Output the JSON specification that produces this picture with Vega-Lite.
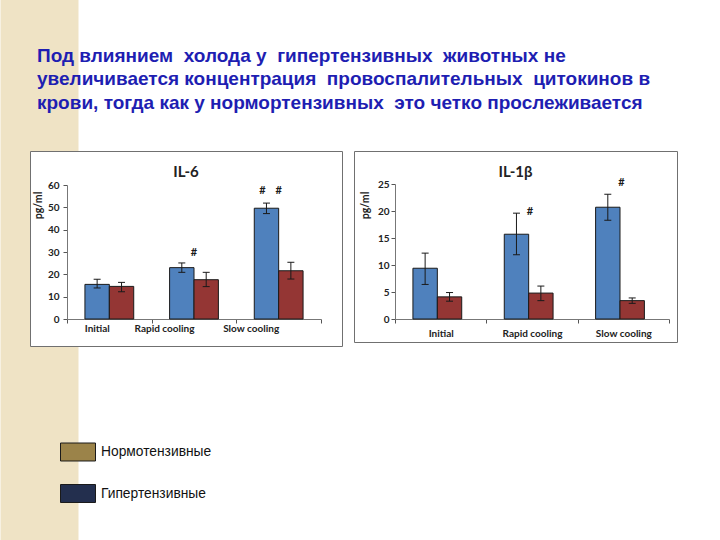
{
  "$schema": "https://vega.github.io/schema/vega-lite/v6.json",
  "background": "white",
  "padding": 0,
  "autosize": {"type": "pad"},
  "bounds": "flush",
  "spacing": 0,
  "resolve": {"scale": {"stroke": "independent"}, "legend": {"stroke": "independent"}},
  "hconcat": [
    {
      "width": 1,
      "height": 1,
      "view": {"fill": null, "stroke": null},
      "data": {"values": [{"s": 0}, {"s": 1}]},
      "mark": {"type": "point", "opacity": 0},
      "encoding": {
        "stroke": {
          "field": "s",
          "type": "quantitative",
          "scale": {"range": ["#efe3c5", "#efe3c5"]},
          "legend": {
            "orient": "none",
            "legendX": -28.5,
            "legendY": -151,
            "direction": "vertical",
            "gradientLength": 540,
            "gradientThickness": 78,
            "gradientStrokeWidth": 0,
            "gradientOpacity": 1,
            "labelOpacity": 0,
            "labelExpr": "''",
            "title": null,
            "padding": 0
          }
        }
      }
    },
    {
      "title": {
        "text": [
          "Под влиянием\u00a0 холода у\u00a0 гипертензивных\u00a0 животных не",
          "увеличивается концентрация\u00a0 провоспалительных\u00a0 цитокинов в",
          "крови, тогда как у нормортензивных\u00a0 это четко прослеживается"
        ],
        "anchor": "start",
        "frame": "group",
        "dx": 7,
        "offset": 38,
        "font": "Liberation Sans",
        "fontSize": 19,
        "fontWeight": "bold",
        "color": "#1e1eb2",
        "lineHeight": 23.5
      },
      "spacing": 10,
      "hconcat": [
        {
          "width": 312,
          "height": 195,
          "title": {"text": "IL-6", "offset": -29},
          "data": {
            "values": [
              {"cat": "Initial", "group": "Нормотензивные", "v": 15.5, "lo": 13.9, "hi": 17.8},
              {"cat": "Initial", "group": "Гипертензивные", "v": 14.6, "lo": 12.2, "hi": 16.4},
              {"cat": "Rapid cooling", "group": "Нормотензивные", "v": 23.0, "lo": 20.9, "hi": 25.1},
              {"cat": "Rapid cooling", "group": "Гипертензивные", "v": 17.6, "lo": 14.5, "hi": 20.9},
              {"cat": "Slow cooling", "group": "Нормотензивные", "v": 49.6, "lo": 47.2, "hi": 51.9},
              {"cat": "Slow cooling", "group": "Гипертензивные", "v": 21.6, "lo": 17.9, "hi": 25.4}
            ]
          },
          "layer": [
            {
              "mark": {"type": "bar", "opacity": 0},
              "encoding": {
                "x": {"field": "cat", "type": "nominal", "title": null},
                "xOffset": {"field": "group", "type": "nominal"},
                "y": {"field": "v", "type": "quantitative", "title": "pg/ml"},
                "fill": {
                  "field": "group",
                  "type": "nominal",
                  "scale": {"domain": ["Нормотензивные", "Гипертензивные"], "range": ["#9b8349", "#232f4e"]},
                  "legend": {
                    "orient": "none",
                    "legendX": 31,
                    "legendY": 283,
                    "title": null,
                    "padding": 0,
                    "symbolType": "M-1,-0.514L1,-0.514L1,0.514L-1,0.514Z",
                    "symbolSize": 1225,
                    "symbolStrokeColor": "#1a1a1a",
                    "symbolStrokeWidth": 1,
                    "symbolOpacity": 1,
                    "labelFont": "Liberation Sans",
                    "labelFontSize": 13.8,
                    "labelFontWeight": "normal",
                    "labelColor": "#111111",
                    "labelOffset": 5,
                    "rowPadding": 12.5
                  }
                }
              }
            },
            {
              "mark": {"type": "bar", "stroke": "#1a1a1a", "strokeWidth": 1},
              "encoding": {
                "x": {
                  "field": "cat",
                  "type": "nominal",
                  "sort": null,
                  "title": null,
                  "scale": {"domain": ["Initial", "Rapid cooling", "Slow cooling"], "range": [37, 291], "paddingInner": 0, "paddingOuter": 0},
                  "axis": {"orient": "bottom", "offset": -27, "labelAngle": 0, "tickBand": "extent", "labelPadding": 5}
                },
                "xOffset": {
                  "field": "group",
                  "type": "nominal",
                  "sort": null,
                  "scale": {"domain": ["Нормотензивные", "Гипертензивные"], "paddingInner": 0, "paddingOuter": 0.735}
                },
                "y": {
                  "field": "v",
                  "type": "quantitative",
                  "title": "pg/ml",
                  "scale": {"domain": [0, 60], "range": [168, 34], "nice": false},
                  "axis": {"orient": "left", "offset": -37, "values": [0, 10, 20, 30, 40, 50, 60], "tickCount": 7, "labelOverlap": false, "labelBound": false, "titleY": 54, "titlePadding": 4, "labelPadding": 4}
                },
                "color": {
                  "field": "group",
                  "type": "nominal",
                  "scale": {"domain": ["Нормотензивные", "Гипертензивные"], "range": ["#4f81bd", "#943634"]},
                  "legend": null
                }
              }
            },
            {
              "mark": {"type": "rule", "color": "#1a1a1a", "strokeWidth": 1},
              "encoding": {
                "x": {"field": "cat", "type": "nominal", "title": null},
                "xOffset": {"field": "group", "type": "nominal"},
                "y": {"field": "lo", "type": "quantitative", "title": "pg/ml"},
                "y2": {"field": "hi"}
              }
            },
            {
              "mark": {"type": "tick", "size": 7, "thickness": 1, "color": "#1a1a1a", "opacity": 1},
              "encoding": {
                "x": {"field": "cat", "type": "nominal", "title": null},
                "xOffset": {"field": "group", "type": "nominal"},
                "y": {"field": "lo", "type": "quantitative", "title": "pg/ml"}
              }
            },
            {
              "mark": {"type": "tick", "size": 7, "thickness": 1, "color": "#1a1a1a", "opacity": 1},
              "encoding": {
                "x": {"field": "cat", "type": "nominal", "title": null},
                "xOffset": {"field": "group", "type": "nominal"},
                "y": {"field": "hi", "type": "quantitative", "title": "pg/ml"}
              }
            },
            {
              "data": {"values": [{"cat": "Rapid cooling", "y": 29.7, "mark": "#"}, {"cat": "Slow cooling", "y": 57.5, "mark": "#"}]},
              "mark": {"type": "text", "font": "Lato", "fontWeight": "bold", "fontSize": 11, "baseline": "middle", "color": "#1a1a1a"},
              "encoding": {
                "x": {"field": "cat", "type": "nominal", "title": null},
                "y": {"field": "y", "type": "quantitative", "title": "pg/ml"},
                "text": {"field": "mark"}
              }
            },
            {
              "data": {"values": [{"cat": "Slow cooling", "group": "Нормотензивные", "y": 57.5, "mark": "#"}]},
              "mark": {"type": "text", "font": "Lato", "fontWeight": "bold", "fontSize": 11, "baseline": "middle", "color": "#1a1a1a", "dx": -4},
              "encoding": {
                "x": {"field": "cat", "type": "nominal", "title": null},
                "xOffset": {"field": "group", "type": "nominal"},
                "y": {"field": "y", "type": "quantitative", "title": "pg/ml"},
                "text": {"field": "mark"}
              }
            }
          ]
        },
        {
          "width": 323,
          "height": 191,
          "title": {"text": "IL-1β", "offset": -29},
          "data": {
            "values": [
              {"cat": "Initial", "group": "Нормотензивные", "v": 9.4, "lo": 6.4, "hi": 12.2},
              {"cat": "Initial", "group": "Гипертензивные", "v": 4.1, "lo": 3.3, "hi": 4.9},
              {"cat": "Rapid cooling", "group": "Нормотензивные", "v": 15.7, "lo": 11.9, "hi": 19.6},
              {"cat": "Rapid cooling", "group": "Гипертензивные", "v": 4.8, "lo": 3.4, "hi": 6.1},
              {"cat": "Slow cooling", "group": "Нормотензивные", "v": 20.7, "lo": 18.3, "hi": 23.1},
              {"cat": "Slow cooling", "group": "Гипертензивные", "v": 3.4, "lo": 2.9, "hi": 3.9}
            ]
          },
          "layer": [
            {
              "mark": {"type": "bar", "stroke": "#1a1a1a", "strokeWidth": 1},
              "encoding": {
                "x": {
                  "field": "cat",
                  "type": "nominal",
                  "sort": null,
                  "title": null,
                  "scale": {"domain": ["Initial", "Rapid cooling", "Slow cooling"], "range": [41, 315], "paddingInner": 0, "paddingOuter": 0},
                  "axis": {"orient": "bottom", "offset": -23, "labelAngle": 0, "tickBand": "extent", "labelPadding": 5}
                },
                "xOffset": {
                  "field": "group",
                  "type": "nominal",
                  "sort": null,
                  "scale": {"domain": ["Нормотензивные", "Гипертензивные"], "paddingInner": 0, "paddingOuter": 0.74}
                },
                "y": {
                  "field": "v",
                  "type": "quantitative",
                  "title": "pg/ml",
                  "scale": {"domain": [0, 25], "range": [168, 33], "nice": false},
                  "axis": {"orient": "left", "offset": -41, "values": [0, 5, 10, 15, 20, 25], "tickCount": 6, "labelOverlap": false, "labelBound": false, "titleY": 54, "titlePadding": 7, "labelPadding": 2}
                },
                "color": {
                  "field": "group",
                  "type": "nominal",
                  "scale": {"domain": ["Нормотензивные", "Гипертензивные"], "range": ["#4f81bd", "#943634"]},
                  "legend": null
                }
              }
            },
            {
              "mark": {"type": "rule", "color": "#1a1a1a", "strokeWidth": 1},
              "encoding": {
                "x": {"field": "cat", "type": "nominal", "title": null},
                "xOffset": {"field": "group", "type": "nominal"},
                "y": {"field": "lo", "type": "quantitative", "title": "pg/ml"},
                "y2": {"field": "hi"}
              }
            },
            {
              "mark": {"type": "tick", "size": 7, "thickness": 1, "color": "#1a1a1a", "opacity": 1},
              "encoding": {
                "x": {"field": "cat", "type": "nominal", "title": null},
                "xOffset": {"field": "group", "type": "nominal"},
                "y": {"field": "lo", "type": "quantitative", "title": "pg/ml"}
              }
            },
            {
              "mark": {"type": "tick", "size": 7, "thickness": 1, "color": "#1a1a1a", "opacity": 1},
              "encoding": {
                "x": {"field": "cat", "type": "nominal", "title": null},
                "xOffset": {"field": "group", "type": "nominal"},
                "y": {"field": "hi", "type": "quantitative", "title": "pg/ml"}
              }
            },
            {
              "data": {"values": [{"cat": "Rapid cooling", "y": 19.9, "mark": "#"}, {"cat": "Slow cooling", "y": 25.1, "mark": "#"}]},
              "mark": {"type": "text", "font": "Lato", "fontWeight": "bold", "fontSize": 11, "baseline": "middle", "color": "#1a1a1a", "dx": -2},
              "encoding": {
                "x": {"field": "cat", "type": "nominal", "title": null},
                "y": {"field": "y", "type": "quantitative", "title": "pg/ml"},
                "text": {"field": "mark"}
              }
            }
          ]
        }
      ]
    }
  ],
  "config": {
    "view": {"stroke": "#707070", "strokeWidth": 1, "fill": "white"},
    "axis": {
      "labelFont": "Lato",
      "labelFontWeight": "bold",
      "labelFontSize": 10,
      "labelColor": "#222222",
      "labelOverlap": false,
      "titleFont": "Lato",
      "titleFontWeight": "bold",
      "titleFontSize": 10.5,
      "titleColor": "#222222",
      "domainColor": "#777777",
      "tickColor": "#555555",
      "tickSize": 4,
      "grid": false
    },
    "title": {"font": "Lato", "fontWeight": "bold", "fontSize": 15, "color": "#222222"}
  }
}
